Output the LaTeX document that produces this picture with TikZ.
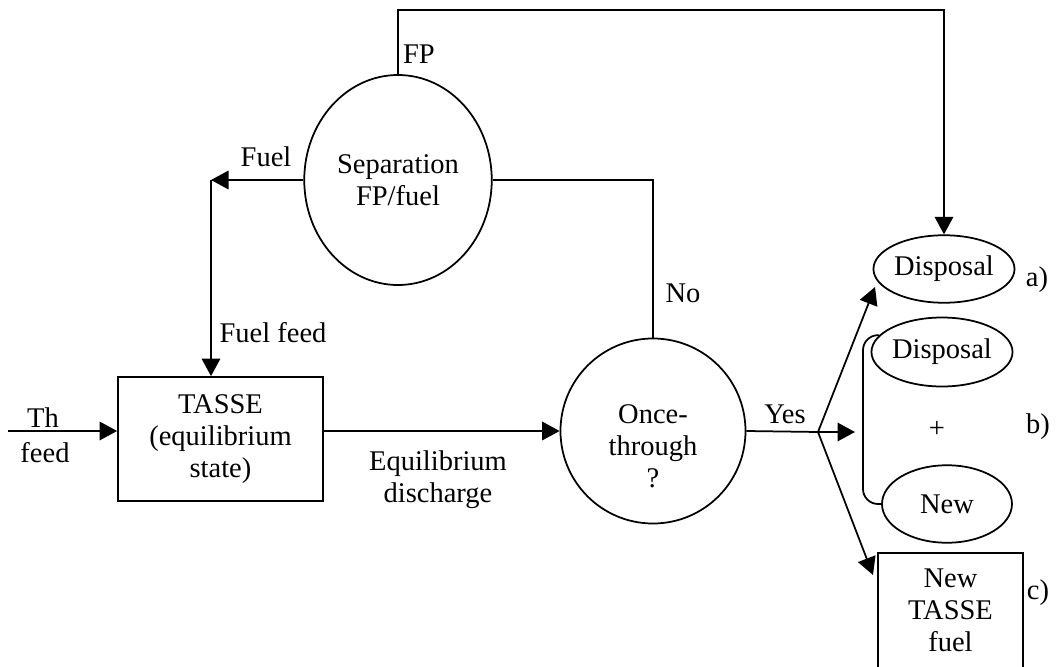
\documentclass[tikz,border=0pt]{standalone}
\usepackage{fontspec}
\setmainfont{Liberation Serif}
\usetikzlibrary{arrows.meta,shapes.geometric,calc}

\begin{document}
\begin{tikzpicture}[x=0.4pt,y=-0.4pt,
    font=\fontsize{11.4}{12.8}\selectfont,
    line width=0.7pt,
    arr/.style={-{Triangle[length=7pt,width=7.4pt]}},
    roundbox/.style={ellipse,draw,inner sep=0pt,align=center},
    squarebox/.style={rectangle,draw,inner sep=0pt,align=center}]
    \useasboundingbox (0,0) rectangle (1056,667);
    % main blocks
    \node[roundbox,minimum width=75pt,minimum height=84pt] (sep) at (398,180) {Separation\\FP/fuel};
    \node[roundbox,minimum width=74pt,minimum height=74pt] (once) at (653,431) {};
    \node[align=center,inner sep=0pt] (oncetxt) at ([yshift=-6pt]once.center) {Once-\\through\\?};
    \node[squarebox,minimum width=82pt,minimum height=49.6pt] (tasse) at (220.5,439) {TASSE\\(equilibrium\\state)};
    % options a) b) c)
    \node[roundbox,minimum width=52pt,minimum height=27pt] (dispA) at (944,269) {Disposal};
    \node[roundbox,minimum width=52pt,minimum height=27.6pt] (dispB) at (942,352) {Disposal};
    \node[roundbox,minimum width=52pt,minimum height=31pt] (newB) at (947,504) {New};
    \node[align=center,inner sep=0pt,minimum width=57.2pt,minimum height=45.2pt] (newfuel) at (950.5,610.5) {New\\TASSE\\fuel};
    \draw (newfuel.south west) -- (newfuel.north west) -- (newfuel.north east) -- (newfuel.south east);
    \node (plus) at (937,429) {+};
    \node (alab) at (1037,280) {a)};
    \node (blab) at (1038,427) {b)};
    \node (clab) at (1038,593) {c)};
    % labels
    \node (fuellbl) at (266,157) {Fuel};
    \node (fplbl) at (419,54) {FP};
    \node (nolbl) at (683,293) {No};
    \node (yeslbl) at (785,414) {Yes};
    \node (feedlbl) at (273,333) {Fuel feed};
    \node[align=center] (eqlbl) at (438,480) {Equilibrium\\discharge};
    \node (thlbl) at (43,418) {Th};
    \node (thfeed) at (45,453) {feed};
    % connectors
    \coordinate (top) at (0,10);
    \coordinate (fuelc) at (211,180);
    \coordinate (thin) at (8,431);
    \coordinate (fork) at (818,432);
    \coordinate (tipA) at (875,287);
    \coordinate (tipB) at (855,432);
    \coordinate (tipC) at (873,575);
    \coordinate (brk) at (863,0);
    \draw[arr] (sep.north) -- (sep.north |- top) -- (dispA.north |- top) -- (dispA.north);
    \draw[arr] (sep.west) -- (fuelc);
    \draw[arr] (fuelc) -- (fuelc |- tasse.north);
    \draw (sep.east) -| (once.north);
    \draw[arr] (thin) -- (thin -| tasse.west);
    \draw[arr] (tasse.east |- once.west) -- (once.west);
    \draw (once.east) -- (fork);
    \draw[arr] (fork) -- (tipA);
    \draw[arr] (fork) -- (tipB);
    \draw[arr] (fork) -- (tipC);
    \draw[rounded corners=6pt] (dispB.165) -- (dispB.165 -| brk) -- (brk |- newB.west) -- (newB.west); % bracket for b)
\end{tikzpicture}
\end{document}
